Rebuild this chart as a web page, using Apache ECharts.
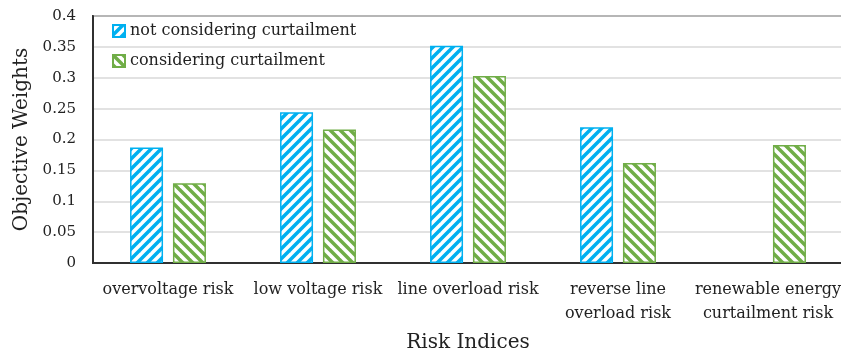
<!DOCTYPE html>
<html>
<head>
<meta charset="utf-8">
<script src="https://cdn.jsdelivr.net/npm/echarts@6/dist/echarts.min.js"></script>
<style>
  html, body { margin: 0; padding: 0; background: #fff; }
  #chart { width: 841px; height: 354px; }
</style>
</head>
<body>
<div id="chart"></div>
<script>
// risk index categories and the two weight series
const categories = ['overvoltage risk', 'low voltage risk', 'line overload risk', 'reverse line\noverload risk', 'renewable energy\ncurtailment risk'];
const notConsidering = [0.187, 0.244, 0.352, 0.220, null];
const considering = [0.129, 0.216, 0.303, 0.162, 0.191];
const yTicks = [0, 0.05, 0.1, 0.15, 0.2, 0.25, 0.3, 0.35, 0.4];

const FONT = 'DejaVu Serif';
const BLUE = '#00B0F0';
const GREEN = '#70AD47';

// diagonal hatch tile, dir '/' or '\'
function hatch(color, dir) {
  const n = 10;
  const c = document.createElement('canvas');
  c.width = n; c.height = n;
  const ctx = c.getContext('2d');
  ctx.fillStyle = '#fff';
  ctx.fillRect(0, 0, n, n);
  ctx.strokeStyle = color;
  ctx.lineWidth = 3.5;
  const h = n / 2;
  const segs = dir === '/'
    ? [[-h, h, h, -h], [0, n, n, 0], [h, n + h, n + h, h]]
    : [[-h, h, h, n + h], [0, 0, n, n], [h, -h, n + h, h]];
  segs.forEach(s => {
    ctx.beginPath();
    ctx.moveTo(s[0], s[1]);
    ctx.lineTo(s[2], s[3]);
    ctx.stroke();
  });
  return { image: c, repeat: 'repeat' };
}

const chart = echarts.init(document.getElementById('chart'));

chart.setOption({
  animation: false,
  backgroundColor: '#fff',
  grid: {
    left: 93, top: 16, right: -2, bottom: 91,
    outerBoundsMode: 'none',
    show: true, borderColor: '#505050', borderWidth: 2, backgroundColor: 'transparent'
  },
  legend: {
    orient: 'vertical',
    left: 107, top: 18,
    itemWidth: 12, itemHeight: 12, itemGap: 14,
    icon: 'rect',
    textStyle: { fontFamily: FONT, fontSize: 16, color: '#222' },
    data: ['not considering curtailment', 'considering curtailment']
  },
  xAxis: {
    type: 'category',
    data: categories,
    name: 'Risk Indices',
    nameLocation: 'middle',
    nameGap: 70,
    nameTextStyle: { fontFamily: FONT, fontSize: 20, color: '#222' },
    axisLine: { lineStyle: { color: '#303030', width: 2 } },
    axisTick: { show: false },
    axisLabel: { fontFamily: FONT, fontSize: 16, color: '#222', margin: 15, lineHeight: 24, interval: 0 }
  },
  yAxis: {
    type: 'value',
    min: yTicks[0], max: yTicks[yTicks.length - 1], interval: 0.05,
    name: 'Objective Weights',
    nameLocation: 'middle',
    nameGap: 52,
    nameTextStyle: { fontFamily: FONT, fontSize: 20, color: '#222' },
    axisLine: { show: true, lineStyle: { color: '#303030', width: 2 } },
    axisLabel: { fontFamily: FONT, fontSize: 15, color: '#222', margin: 17 },
    splitLine: { lineStyle: { color: '#d9d9d9', width: 1.5 } }
  },
  series: [
    {
      name: 'not considering curtailment',
      type: 'bar',
      data: notConsidering,
      barWidth: 33,
      barGap: '30%',
      itemStyle: { color: hatch(BLUE, '/'), borderColor: BLUE, borderWidth: 1.5 }
    },
    {
      name: 'considering curtailment',
      type: 'bar',
      data: considering,
      barWidth: 33,
      itemStyle: { color: hatch(GREEN, '\\'), borderColor: GREEN, borderWidth: 1.5 }
    }
  ]
});
</script>
</body>
</html>
